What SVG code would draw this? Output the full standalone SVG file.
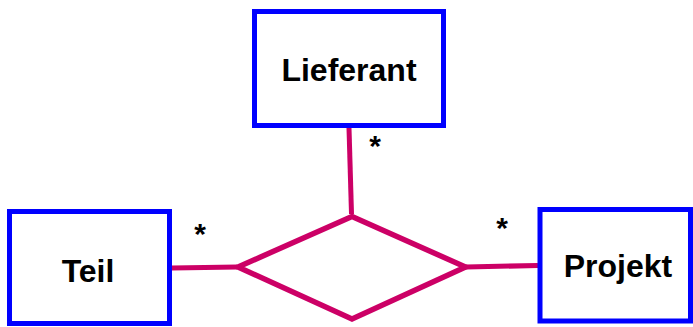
<svg xmlns="http://www.w3.org/2000/svg" width="693" height="327" viewBox="0 0 693 327">
<style>
.box{fill:#fff;stroke:#0000ff;stroke-width:5}
.lbl{font-family:"Liberation Sans",Arial,sans-serif;font-weight:bold;font-size:32px;fill:#000;text-anchor:middle}
.star{font-family:"Liberation Sans",Arial,sans-serif;font-weight:bold;font-size:30px;fill:#000;text-anchor:middle}
.rel{fill:#fff;stroke:#cc0066;stroke-width:5.5;stroke-linejoin:miter}
.con{fill:none;stroke:#cc0066;stroke-width:5}
</style>
<rect width="693" height="327" fill="#fff"/>
<g id="connectors">
<line class="con" x1="349" y1="128" x2="351.5" y2="214"/>
<line class="con" x1="172" y1="268" x2="237" y2="267"/>
<line class="con" x1="466" y1="267" x2="538" y2="265.5"/>
<text class="star" x="375" y="156">*</text>
<text class="star" x="200" y="244">*</text>
<text class="star" x="502" y="238">*</text>
</g>
<g id="lieferant">
<rect class="box" x="254.5" y="11.5" width="189" height="114"/>
<text class="lbl" x="349" y="81">Lieferant</text>
</g>
<g id="teil">
<rect class="box" x="9.5" y="211.5" width="160" height="112"/>
<text class="lbl" x="88" y="282">Teil</text>
</g>
<g id="projekt">
<rect class="box" x="540" y="209.5" width="150.5" height="111.5"/>
<text class="lbl" x="618" y="277">Projekt</text>
</g>
<g id="relation">
<polygon class="rel" points="352,216.5 465.5,267 352,319 238,267"/>
</g>
</svg>
